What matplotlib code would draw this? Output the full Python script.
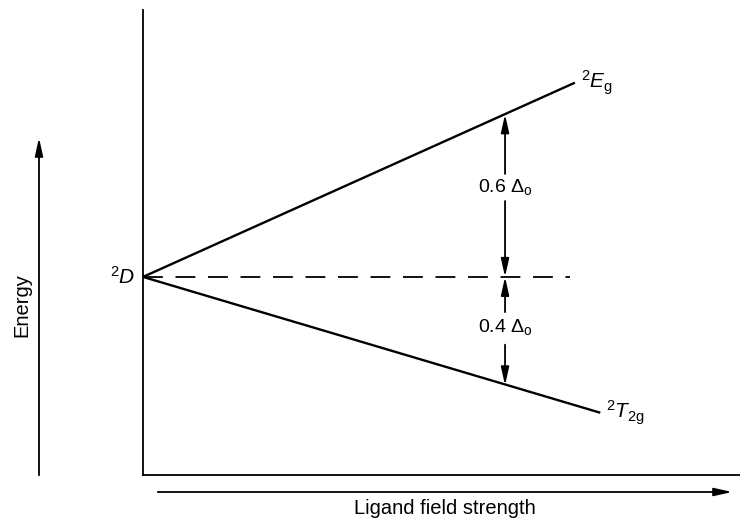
import matplotlib.pyplot as plt
from matplotlib.patches import FancyArrowPatch

plt.rcParams['font.family'] = ['Liberation Sans', 'DejaVu Sans']
plt.rcParams['mathtext.fontset'] = 'custom'
plt.rcParams['mathtext.rm'] = 'Liberation Sans'
plt.rcParams['mathtext.it'] = 'Liberation Sans:italic'

# ligand field strength (x) vs energy (y), in units of delta_o
eg_field = [0.0, 1.19]
eg_energy = [0.0, 0.715]
t2g_field = [0.0, 1.26]
t2g_energy = [0.0, -0.50]
free_ion_field = [0.0, 1.18]
free_ion_energy = [0.0, 0.0]

split_field = 1.0          # where the splitting is marked
eg_split = 0.6
t2g_split = -0.4

W, H = 740, 521
fig = plt.figure(figsize=(W / 100, H / 100), dpi=100)
ax = fig.add_axes([143 / W, (H - 475) / H, (W - 143) / W, (475 - 10) / H])

ax.plot(eg_field, eg_energy, color='black', lw=1.7)
ax.plot(t2g_field, t2g_energy, color='black', lw=1.7)
ax.plot(free_ion_field, free_ion_energy, color='black', lw=1.3,
        dashes=(11, 7))

ax.set_xlim(0, 1.649)
ax.set_ylim(-0.731, 0.985)
ax.set_xticks([])
ax.set_yticks([])
for side in ('top', 'right'):
    ax.spines[side].set_visible(False)
for side in ('left', 'bottom'):
    ax.spines[side].set_linewidth(1.3)

head = '-|>,head_length=0.9,head_width=0.2'
arrow = dict(arrowstyle=head, color='black', lw=1.3, shrinkA=0, shrinkB=0,
             mutation_scale=12)

# 0.6 delta_o: split arrows around the label
ax.annotate('', xy=(split_field, eg_split), xytext=(split_field, 0.38),
            arrowprops=arrow)
ax.annotate('', xy=(split_field, 0.0), xytext=(split_field, 0.28),
            arrowprops=arrow)
ax.text(split_field, 0.33, r'0.6 $\Delta_\mathrm{o}$', ha='center',
        va='center', fontsize=14)

# 0.4 delta_o
ax.annotate('', xy=(split_field, 0.0), xytext=(split_field, -0.13),
            arrowprops=arrow)
ax.annotate('', xy=(split_field, t2g_split), xytext=(split_field, -0.25),
            arrowprops=arrow)
ax.text(split_field, -0.185, r'0.4 $\Delta_\mathrm{o}$', ha='center',
        va='center', fontsize=14)

# term labels
ax.text(-0.02, 0.0, r'$^2D$', ha='right', va='center', fontsize=15)
ax.text(eg_field[1] + 0.02, eg_energy[1], r'$^2E_\mathrm{g}$',
        ha='left', va='center', fontsize=15)
ax.text(t2g_field[1] + 0.02, t2g_energy[1], r'$^2T_\mathrm{2g}$',
        ha='left', va='center', fontsize=15)

# outer axis arrows and titles
fig.add_artist(FancyArrowPatch((39, H - 478), (39, H - 135), transform=None,
                               arrowstyle=head, mutation_scale=12,
                               color='black', lw=1.3))
fig.add_artist(FancyArrowPatch((155, H - 492), (735, H - 492), transform=None,
                               arrowstyle=head, mutation_scale=12,
                               color='black', lw=1.3))
fig.text(22 / W, (H - 305) / H, 'Energy', rotation=90, ha='center',
         va='center', fontsize=14.5)
fig.text(445 / W, 12 / H, 'Ligand field strength', ha='center',
         va='center', fontsize=14.5)

fig.savefig('out.png', dpi=100)
